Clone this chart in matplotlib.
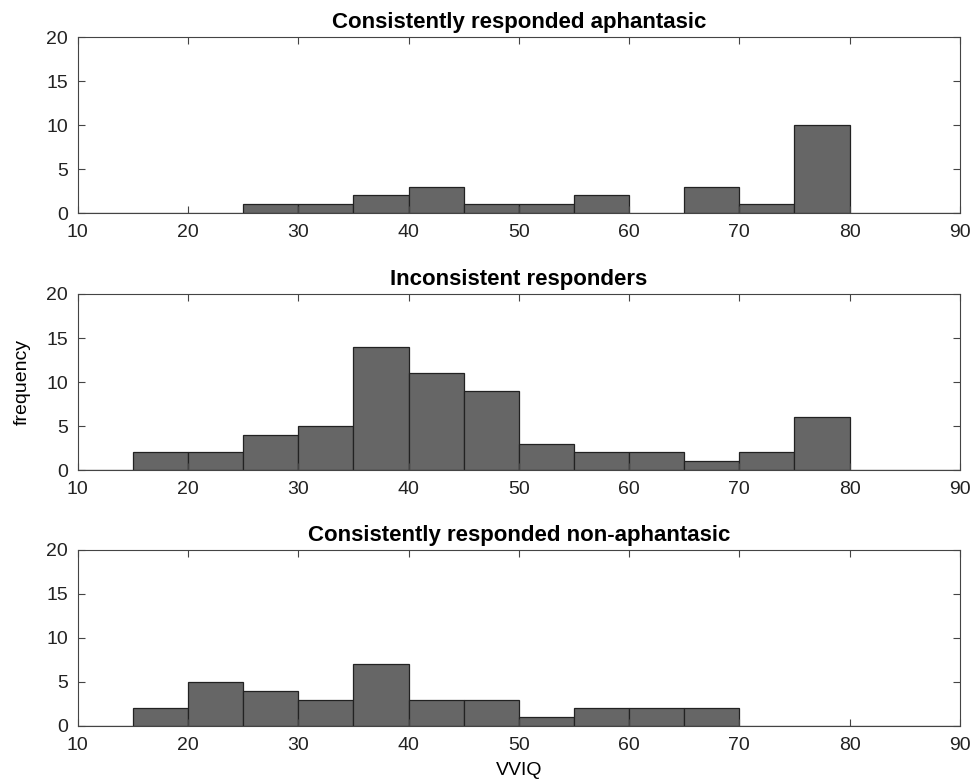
import numpy as np
import matplotlib
matplotlib.use("Agg")
from matplotlib import pyplot as plt

plt.rcParams["font.family"] = ["Liberation Sans", "DejaVu Sans"]

bin_edges = np.arange(10, 95, 5)
titles = [
    "Consistently responded aphantasic",
    "Inconsistent responders",
    "Consistently responded non-aphantasic",
]
# counts per 5-wide bin starting at 10
aphantasic = [0, 0, 0, 1, 1, 2, 3, 1, 1, 2, 0, 3, 1, 10, 0, 0]
inconsistent = [0, 2, 2, 4, 5, 14, 11, 9, 3, 2, 2, 1, 2, 6, 0, 0]
non_aphantasic = [0, 2, 5, 4, 3, 7, 3, 3, 1, 2, 2, 2, 0, 0, 0, 0]
all_counts = [aphantasic, inconsistent, non_aphantasic]

fig = plt.figure(figsize=(9.73, 7.84), dpi=100)
left, width, height = 0.080, 0.9065, 0.2245
bottoms = [0.7283, 0.4005, 0.0740]

axes = []
for title, counts, b in zip(titles, all_counts, bottoms):
    ax = fig.add_axes([left, b, width, height])
    ax.bar(bin_edges[:-1], counts, width=5, align="edge",
           color="#666666", edgecolor="#222222", linewidth=0.9)
    ax.set_xlim(10, 90)
    ax.set_ylim(0, 20)
    ax.set_xticks(np.arange(10, 100, 10))
    ax.set_yticks(np.arange(0, 25, 5))
    ax.tick_params(direction="in", top=True, right=True, labelsize=14,
                   length=5, width=0.8, color="#444444", labelcolor="#222222")
    ax.tick_params(axis="x", pad=8)
    ax.tick_params(axis="y", pad=7)
    for sp in ax.spines.values():
        sp.set_color("#444444")
        sp.set_linewidth(0.8)
    ax.set_title(title, fontsize=16, fontweight="bold", pad=6.5)
    axes.append(ax)

axes[1].set_ylabel("frequency", fontsize=14, labelpad=11)
axes[2].set_xlabel("VVIQ", fontsize=14, labelpad=6)

plt.savefig("out.png", dpi=100)
